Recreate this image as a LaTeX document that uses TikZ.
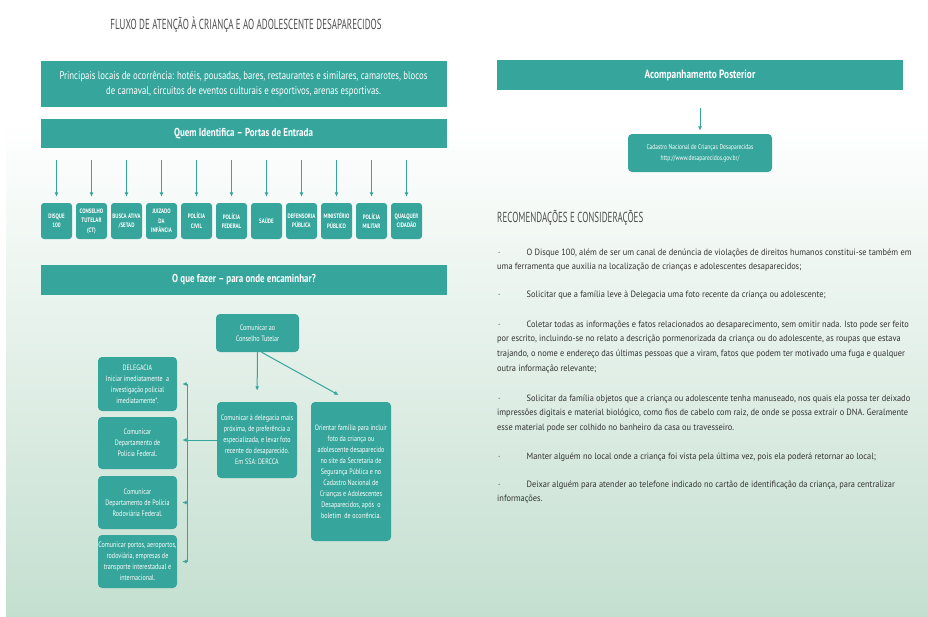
\documentclass[tikz,border=0pt]{standalone}
\usepackage{fontspec}
\setmainfont{PT Sans}
\newfontfamily\condfont[FakeStretch=0.78]{PT Sans}
\newfontfamily\titlefont[FakeStretch=0.62]{PT Sans}
\newfontfamily\bodyfont[FakeStretch=0.92]{PT Sans}
\usetikzlibrary{arrows.meta,positioning,shapes}
\definecolor{boxteal}{RGB}{54,165,156}
\definecolor{bggreen}{RGB}{196,223,208}
\definecolor{headgray}{RGB}{80,80,80}
\definecolor{bodygray}{RGB}{50,50,50}
\newcommand\bulletmark{\makebox[29.5pt][l]{\hspace{1pt}\textperiodcentered}}

\begin{document}
\begin{tikzpicture}[x=1pt,y=-1pt,
  bar/.style={fill=boxteal,text=white,inner sep=0pt,minimum width=406pt,align=center},
  porta/.style={fill=boxteal,text=white,rounded corners=3pt,inner sep=0pt,minimum width=31pt,minimum height=36pt,align=center,font=\condfont\bfseries\fontsize{6.4}{9.5}\selectfont},
  caixa/.style={fill=boxteal,text=white,rounded corners=4pt,inner sep=0pt,align=center,font=\condfont\fontsize{7.8}{11}\selectfont},
  seta/.style={-{Latex[length=4.5pt,width=4pt]},draw=boxteal,line width=1pt},
  linha/.style={draw=boxteal,line width=1pt},
  texto/.style={anchor=north west,inner sep=0pt,align=left,text=bodygray,font=\bodyfont\fontsize{9.1}{14.6}\selectfont}]
\useasboundingbox (0,0) rectangle (928,616);
\fill[white] (0,0) rectangle (928,616);
\shade[top color=white,bottom color=bggreen] (6,120) rectangle (928,616);

% fluxo, lado esquerdo
\node[text=headgray,font=\titlefont\fontsize{14.5}{15}\selectfont] (tit) at (246,25) {FLUXO DE ATENÇÃO À CRIANÇA E AO ADOLESCENTE DESAPARECIDOS};
\node[bar,minimum height=46pt,font=\condfont\fontsize{11.2}{15}\selectfont] (loc) at (243.5,84) {Principais locais de ocorrência: hotéis, pousadas, bares, restaurantes e similares, camarotes, blocos\\de carnaval, circuitos de eventos culturais e esportivos, arenas esportivas.};
\node[bar,minimum height=29pt,font=\condfont\bfseries\fontsize{11.5}{12}\selectfont] (quem) at (243.5,133.5) {Quem Identifica – Portas de Entrada};

\node[porta] (p0) at (56.5,221) {DISQUE\\100};
\node[porta] (p1) at (91.5,221) {CONSELHO\\TUTELAR\\(CT)};
\node[porta] (p2) at (126.5,221) {BUSCA ATIVA\\/SETAD};
\node[porta] (p3) at (161.5,221) {JUIZADO\\DA\\INFÂNCIA};
\node[porta] (p4) at (196.5,221) {POLÍCIA\\CIVIL};
\node[porta] (p5) at (231.5,221) {POLÍCIA\\FEDERAL};
\node[porta] (p6) at (266.5,221) {SAÚDE};
\node[porta] (p7) at (301.5,221) {DEFENSORIA\\PÚBLICA};
\node[porta] (p8) at (336.5,221) {MINISTÉRIO\\PÚBLICO};
\node[porta] (p9) at (371.5,221) {POLÍCIA\\MILITAR};
\node[porta] (p10) at (406.5,221) {QUALQUER\\CIDADÃO};
\draw[seta,shorten <=12pt,shorten >=6pt] (quem.south -| p0.north) -- (p0.north);
\draw[seta,shorten <=12pt,shorten >=6pt] (quem.south -| p1.north) -- (p1.north);
\draw[seta,shorten <=12pt,shorten >=6pt] (quem.south -| p2.north) -- (p2.north);
\draw[seta,shorten <=12pt,shorten >=6pt] (quem.south -| p3.north) -- (p3.north);
\draw[seta,shorten <=12pt,shorten >=6pt] (quem.south -| p4.north) -- (p4.north);
\draw[seta,shorten <=12pt,shorten >=6pt] (quem.south -| p5.north) -- (p5.north);
\draw[seta,shorten <=12pt,shorten >=6pt] (quem.south -| p6.north) -- (p6.north);
\draw[seta,shorten <=12pt,shorten >=6pt] (quem.south -| p7.north) -- (p7.north);
\draw[seta,shorten <=12pt,shorten >=6pt] (quem.south -| p8.north) -- (p8.north);
\draw[seta,shorten <=12pt,shorten >=6pt] (quem.south -| p9.north) -- (p9.north);
\draw[seta,shorten <=12pt,shorten >=6pt] (quem.south -| p10.north) -- (p10.north);

\node[bar,minimum height=30pt,font=\condfont\bfseries\fontsize{11.5}{12}\selectfont] (oque) at (244,280) {O que fazer – para onde encaminhar?};
\node[caixa,minimum width=83pt,minimum height=38pt] (cons) at (257.5,333) {Comunicar ao\\Conselho Tutelar};
\node[caixa,minimum width=80pt,minimum height=76pt] (dele) at (257,440) {Comunicar à delegacia mais\\próxima, de preferência a\\especializada, e levar foto\\recente do desaparecido.\\Em SSA: DERCCA};
\node[caixa,minimum width=80pt,minimum height=139pt] (orient) at (351,471.5) {Orientar família para incluir\\foto da criança ou\\adolescente desaparecido\\no site da Secretaria de\\Segurança Pública e no\\Cadastro Nacional de\\Crianças e Adolescentes\\Desaparecidos, após\ \ o\\boletim\ \ de ocorrência.};
\node[caixa,minimum width=79pt,minimum height=54pt] (d1) at (137.5,384) {DELEGACIA\\Iniciar imediatamente\ \ a\\investigação policial\\imediatamente*.};
\node[caixa,minimum width=79pt,minimum height=52pt] (d2) at (137.5,443) {Comunicar\\Departamento de\\Polícia Federal.};
\node[caixa,minimum width=79pt,minimum height=53pt] (d3) at (137.5,502.5) {Comunicar\\Departamento de Polícia\\Rodoviária Federal.};
\node[caixa,minimum width=79pt,minimum height=53pt] (d4) at (137.5,561.5) {Comunicar portos, aeroportos,\\rodoviária, empresas de\\transporte interestadual e\\internacional.};
\draw[seta,shorten >=11pt] (cons.south) -- (dele.north);
\draw[seta,shorten >=14pt] ([xshift=4pt]cons.south) -- (orient.north);
\coordinate (bk) at (187,440);
\draw[seta,shorten >=5pt] (dele.west) -- (dele.west -| d2.east);
\draw[seta,shorten >=5pt] (bk) |- (d1.east);
\draw[seta,shorten >=5pt] (bk) |- (d3.east);
\draw[seta,shorten >=5pt] (bk) |- (d4.east);

% lado direito
\node[bar,minimum height=30pt,font=\condfont\bfseries\fontsize{12}{12}\selectfont] (acomp) at (700,75) {Acompanhamento Posterior};
\node[caixa,minimum width=144pt,minimum height=38pt,font=\condfont\fontsize{7.1}{11}\selectfont] (cad) at (700,153) {Cadastro Nacional de Crianças Desaparecidas\\http://www.desaparecidos.gov.br/};
\draw[seta,shorten <=18pt,shorten >=3pt] (acomp.south) -- (cad.north);

\node[anchor=west,inner sep=0pt,text=headgray,font=\titlefont\fontsize{14.5}{16}\selectfont] (rec) at (497,218) {RECOMENDAÇÕES E CONSIDERAÇÕES};
\node[texto] (b1) at (497,247) {\rule{0pt}{8pt}\bulletmark O Disque 100, além de ser um canal de denúncia de violações de direitos humanos constitui-se também em\\uma ferramenta que auxilia na localização de crianças e adolescentes desaparecidos;};
\node[texto] (b2) at (497,289) {\rule{0pt}{8pt}\bulletmark Solicitar que a família leve à Delegacia uma foto recente da criança ou adolescente;};
\node[texto] (b3) at (497,319) {\rule{0pt}{8pt}\bulletmark Coletar todas as informações e fatos relacionados ao desaparecimento, sem omitir nada. Isto pode ser feito\\por escrito, incluindo-se no relato a descrição pormenorizada da criança ou do adolescente, as roupas que estava\\trajando, o nome e endereço das últimas pessoas que a viram, fatos que podem ter motivado uma fuga e qualquer\\outra informação relevante;};
\node[texto] (b4) at (497,393) {\rule{0pt}{8pt}\bulletmark Solicitar da família objetos que a criança ou adolescente tenha manuseado, nos quais ela possa ter deixado\\impressões digitais e material biológico, como fios de cabelo com raiz, de onde se possa extrair o DNA. Geralmente\\esse material pode ser colhido no banheiro da casa ou travesseiro.};
\node[texto] (b5) at (497,451) {\rule{0pt}{8pt}\bulletmark Manter alguém no local onde a criança foi vista pela última vez, pois ela poderá retornar ao local;};
\node[texto] (b6) at (497,479) {\rule{0pt}{8pt}\bulletmark Deixar alguém para atender ao telefone indicado no cartão de identificação da criança, para centralizar\\informações.};
\end{tikzpicture}
\end{document}
